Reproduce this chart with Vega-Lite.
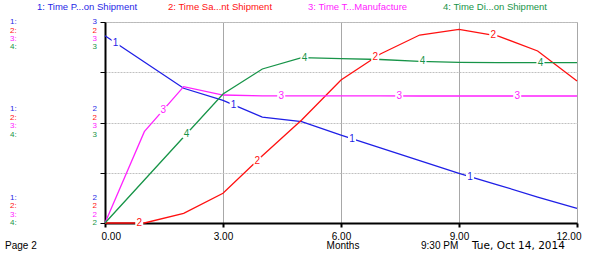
{
  "$schema": "https://vega.github.io/schema/vega-lite/v6.json",
  "width": 472,
  "height": 201,
  "autosize": {"type": "none"},
  "padding": {"left": 105, "top": 22, "right": 12, "bottom": 31},
  "background": "white",
  "config": {"view": {"stroke": "#b4b4b4", "strokeWidth": 1}, "font": "Liberation Sans"},
  "datasets": {
    "lines": [
      {"s": "1", "x": 0, "y": 3.727}, {"s": "1", "x": 1, "y": 3.204}, {"s": "1", "x": 2, "y": 2.681}, {"s": "1", "x": 3, "y": 2.442},
      {"s": "1", "x": 4, "y": 2.109}, {"s": "1", "x": 5, "y": 2.016}, {"s": "1", "x": 6, "y": 1.751}, {"s": "1", "x": 7, "y": 1.493},
      {"s": "1", "x": 8, "y": 1.24}, {"s": "1", "x": 9, "y": 0.989}, {"s": "1", "x": 10, "y": 0.756}, {"s": "1", "x": 11, "y": 0.517},
      {"s": "1", "x": 12, "y": 0.293},
      {"s": "2", "x": 0, "y": 0}, {"s": "2", "x": 1, "y": 0}, {"s": "2", "x": 2, "y": 0.193}, {"s": "2", "x": 3, "y": 0.591},
      {"s": "2", "x": 4, "y": 1.339}, {"s": "2", "x": 5, "y": 2.05}, {"s": "2", "x": 6, "y": 2.846}, {"s": "2", "x": 7, "y": 3.363},
      {"s": "2", "x": 8, "y": 3.741}, {"s": "2", "x": 9, "y": 3.854}, {"s": "2", "x": 10, "y": 3.721}, {"s": "2", "x": 11, "y": 3.423},
      {"s": "2", "x": 12, "y": 2.826},
      {"s": "3", "x": 0, "y": 0}, {"s": "3", "x": 1, "y": 1.817}, {"s": "3", "x": 2, "y": 2.713}, {"s": "3", "x": 3, "y": 2.547},
      {"s": "3", "x": 4, "y": 2.53}, {"s": "3", "x": 5, "y": 2.529}, {"s": "3", "x": 6, "y": 2.528}, {"s": "3", "x": 7, "y": 2.528},
      {"s": "3", "x": 8, "y": 2.527}, {"s": "3", "x": 9, "y": 2.527}, {"s": "3", "x": 10, "y": 2.527}, {"s": "3", "x": 11, "y": 2.527},
      {"s": "3", "x": 12, "y": 2.527},
      {"s": "4", "x": 0, "y": 0}, {"s": "4", "x": 1, "y": 0.856}, {"s": "4", "x": 2, "y": 1.711}, {"s": "4", "x": 3, "y": 2.567},
      {"s": "4", "x": 4, "y": 3.065}, {"s": "4", "x": 5, "y": 3.29}, {"s": "4", "x": 6, "y": 3.27}, {"s": "4", "x": 7, "y": 3.254},
      {"s": "4", "x": 8, "y": 3.215}, {"s": "4", "x": 9, "y": 3.195}, {"s": "4", "x": 10, "y": 3.19}, {"s": "4", "x": 11, "y": 3.19},
      {"s": "4", "x": 12, "y": 3.19}
    ],
    "marks": [
      {"s": "1", "x": 0.27, "y": 3.586}, {"s": "1", "x": 3.27, "y": 2.352}, {"s": "1", "x": 6.28, "y": 1.679}, {"s": "1", "x": 9.28, "y": 0.924},
      {"s": "2", "x": 0.87, "y": 0}, {"s": "2", "x": 3.87, "y": 1.242}, {"s": "2", "x": 6.87, "y": 3.296}, {"s": "2", "x": 9.87, "y": 3.738},
      {"s": "3", "x": 1.48, "y": 2.247}, {"s": "3", "x": 4.48, "y": 2.529}, {"s": "3", "x": 7.48, "y": 2.527}, {"s": "3", "x": 10.48, "y": 2.527},
      {"s": "4", "x": 2.07, "y": 1.771}, {"s": "4", "x": 5.07, "y": 3.289}, {"s": "4", "x": 8.07, "y": 3.214}, {"s": "4", "x": 11.07, "y": 3.19}
    ],
    "header": [
      {"s": "1", "x": -1.729, "y": 4.299, "txt": "1: Time P...on Shipment"},
      {"s": "2", "x": 1.602, "y": 4.299, "txt": "2: Time Sa...nt Shipment"},
      {"s": "3", "x": 5.161, "y": 4.299, "txt": "3: Time T...Manufacture"},
      {"s": "4", "x": 8.593, "y": 4.299, "txt": "4: Time Di...on Shipment"}
    ],
    "tags": [
      {"s": "1", "x": -2.415, "y": 3.994, "txt": "1:"},
      {"s": "2", "x": -2.415, "y": 3.827, "txt": "2:"},
      {"s": "3", "x": -2.415, "y": 3.662, "txt": "3:"},
      {"s": "4", "x": -2.415, "y": 3.495, "txt": "4:"},
      {"s": "1", "x": -2.415, "y": 2.261, "txt": "1:"},
      {"s": "2", "x": -2.415, "y": 2.094, "txt": "2:"},
      {"s": "3", "x": -2.415, "y": 1.926, "txt": "3:"},
      {"s": "4", "x": -2.415, "y": 1.759, "txt": "4:"},
      {"s": "1", "x": -2.415, "y": 0.502, "txt": "1:"},
      {"s": "2", "x": -2.415, "y": 0.334, "txt": "2:"},
      {"s": "3", "x": -2.415, "y": 0.167, "txt": "3:"},
      {"s": "4", "x": -2.415, "y": 0.0, "txt": "4:"}
    ],
    "vals": [
      {"s": "1", "x": -0.203, "y": 3.994, "txt": "3"},
      {"s": "2", "x": -0.203, "y": 3.827, "txt": "2"},
      {"s": "3", "x": -0.203, "y": 3.662, "txt": "3"},
      {"s": "4", "x": -0.203, "y": 3.495, "txt": "3"},
      {"s": "1", "x": -0.203, "y": 2.261, "txt": "2"},
      {"s": "2", "x": -0.203, "y": 2.094, "txt": "2"},
      {"s": "3", "x": -0.203, "y": 1.926, "txt": "3"},
      {"s": "4", "x": -0.203, "y": 1.759, "txt": "3"},
      {"s": "1", "x": -0.203, "y": 0.502, "txt": "2"},
      {"s": "2", "x": -0.203, "y": 0.334, "txt": "2"},
      {"s": "3", "x": -0.203, "y": 0.167, "txt": "2"},
      {"s": "4", "x": -0.203, "y": 0.0, "txt": "2"}
    ],
    "footer": [
      {"s": "0", "x": -2.542, "y": -0.458, "txt": "Page 2"},
      {"s": "0", "x": 8.034, "y": -0.458, "txt": "9:30 PM"}
    ],
    "date": [
      {"s": "0", "x": 9.331, "y": -0.458, "txt": "Tue, Oct 14, 2014"}
    ],
    "center": [
      {"s": "0", "x": 6.051, "y": -0.458, "txt": "Months"}
    ]
  },
  "encoding": {
    "x": {
      "field": "x", "type": "quantitative",
      "scale": {"domain": [0, 12], "nice": false, "zero": false},
      "axis": {
        "title": null, "values": [0, 3, 6, 9, 12], "format": ".2f",
        "labelFont": "Liberation Sans", "labelFontSize": 10, "labelColor": "#000",
        "labelPadding": 4, "labelFlush": true, "labelFlushOffset": 4,
        "domainColor": "#000", "domainWidth": 2,
        "tickColor": "#000", "tickWidth": 2, "tickSize": 4,
        "grid": true, "gridColor": "#a8a8a8", "gridWidth": 1
      }
    },
    "y": {
      "field": "y", "type": "quantitative",
      "scale": {"domain": [0, 4], "nice": false, "zero": false},
      "axis": {
        "title": null, "values": [0, 1, 2, 3, 4], "labels": false,
        "domainColor": "#000", "domainWidth": 2,
        "tickColor": "#000", "tickWidth": 1, "tickSize": 5,
        "grid": true, "gridColor": "#c0c0c0", "gridDash": [2, 1]
      }
    },
    "color": {
      "field": "s", "type": "nominal",
      "scale": {"domain": ["1", "2", "3", "4", "0"], "range": ["#1f1fe6", "#ff1010", "#ff22ff", "#179448", "#000000"]},
      "legend": null
    }
  },
  "layer": [
    {"data": {"name": "lines"}, "mark": {"type": "line", "strokeWidth": 1.3}},
    {"data": {"name": "marks"}, "mark": {"type": "point", "shape": "square", "filled": true, "size": 64, "opacity": 1}, "encoding": {"color": {"value": "white"}}},
    {"data": {"name": "marks"}, "mark": {"type": "text", "fontSize": 10, "baseline": "middle", "align": "center"}, "encoding": {"text": {"field": "s"}}},
    {"data": {"name": "header"}, "mark": {"type": "text", "fontSize": 9.5, "baseline": "middle", "align": "left"}, "encoding": {"text": {"field": "txt"}}},
    {"data": {"name": "tags"}, "mark": {"type": "text", "fontSize": 8, "baseline": "middle", "align": "left"}, "encoding": {"text": {"field": "txt"}}},
    {"data": {"name": "vals"}, "mark": {"type": "text", "fontSize": 8, "baseline": "middle", "align": "right"}, "encoding": {"text": {"field": "txt"}}},
    {"data": {"name": "footer"}, "mark": {"type": "text", "fontSize": 10, "baseline": "middle", "align": "left"}, "encoding": {"text": {"field": "txt"}}},
    {"data": {"name": "date"}, "mark": {"type": "text", "font": "DejaVu Sans", "fontSize": 10.5, "baseline": "middle", "align": "left"}, "encoding": {"text": {"field": "txt"}}},
    {"data": {"name": "center"}, "mark": {"type": "text", "fontSize": 10, "baseline": "middle", "align": "center"}, "encoding": {"text": {"field": "txt"}}}
  ]
}
